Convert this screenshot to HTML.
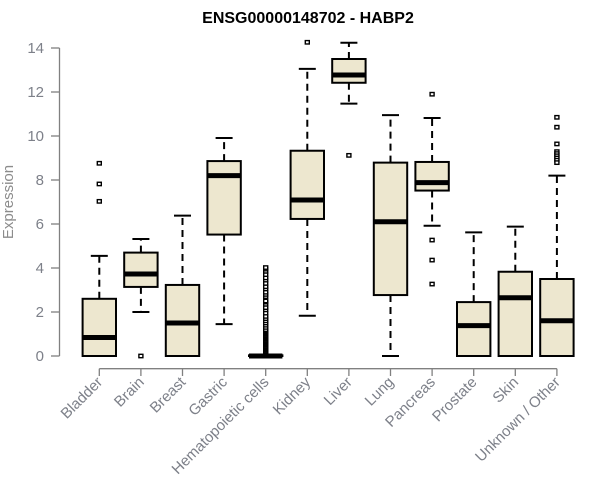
<!DOCTYPE html>
<html><head><meta charset="utf-8"><style>
body{margin:0;background:#fff;}
svg{display:block;font-family:"Liberation Sans",Arial,sans-serif;}
</style></head><body>
<svg id="chart" width="600" height="500" viewBox="0 0 600 500" xmlns="http://www.w3.org/2000/svg">
<text x="308" y="23" text-anchor="middle" font-weight="bold" font-size="16" fill="#000">ENSG00000148702 - HABP2</text>
<text transform="translate(13,202) rotate(-90)" text-anchor="middle" font-size="15" fill="#8c8c8c">Expression</text>
<g id="axes"></g><g id="boxes"></g>
</svg>
<script>
const categories=["Bladder","Brain","Breast","Gastric","Hematopoietic cells","Kidney","Liver","Lung","Pancreas","Prostate","Skin","Unknown / Other"];
const lowWhisker=[0,2.0,0,1.45,0,1.83,11.47,0,5.92,0,0,0];
const q1=[0,3.14,0,5.52,0,6.23,12.42,2.77,7.52,0,0,0];
const median=[0.84,3.73,1.5,8.2,0,7.09,12.77,6.1,7.88,1.38,2.65,1.6];
const q3=[2.6,4.7,3.23,8.86,0.03,9.33,13.5,8.79,8.82,2.45,3.83,3.5];
const highWhisker=[4.55,5.32,6.38,9.91,0.07,13.05,14.24,10.95,10.82,5.62,5.88,8.2];
const outliers=[[8.76,7.82,7.03],[0],[],[],[0.1,0.15,0.2,0.25,0.3,0.35,0.4,0.45,0.5,0.55,0.6,0.65,0.7,0.75,0.8,0.85,0.9,0.95,1.0,1.05,1.1,1.15,1.2,1.3,1.4,1.5,1.6,1.7,1.8,1.95,2.1,2.2,2.35,2.45,2.5,2.7,2.8,2.9,3.05,3.15,3.3,3.45,3.55,3.7,3.85,3.95,4.02],[14.26],[9.12],[],[11.9,5.27,4.36,3.27],[],[],[10.85,10.4,9.64,9.29,9.2,9.1,9.0,8.9,8.79]];
const yTicks=[0,2,4,6,8,10,12,14];
const NS="http://www.w3.org/2000/svg";
const yScale=v=>356-v*22;
const xScale=i=>99.3+i*41.6;
function mk(tag,attrs,parent){const e=document.createElementNS(NS,tag);for(const k in attrs)e.setAttribute(k,attrs[k]);parent.appendChild(e);return e;}
const axes=document.getElementById('axes'),boxes=document.getElementById('boxes');
const grey="#808080",lab="#7d8089";
let l=mk('line',{x1:59.5,x2:59.5,y1:yScale(0),y2:yScale(14),stroke:grey,'stroke-width':1.3},axes);

yTicks.forEach(t=>{
 const tk=mk('line',{x1:51,x2:59.5,y1:yScale(t),y2:yScale(t),stroke:grey,'stroke-width':1.3},axes);
 
 const tx=mk('text',{x:44,y:yScale(t)+5,'text-anchor':'end','font-size':15,fill:lab},axes);
 tx.textContent=t;
 
});
l=mk('line',{x1:xScale(0),x2:xScale(categories.length-1),y1:368.7,y2:368.7,stroke:grey,'stroke-width':1.3},axes);

categories.forEach((c,i)=>{
 const x=xScale(i);
 const tk=mk('line',{x1:x,x2:x,y1:368.7,y2:376,stroke:grey,'stroke-width':1.3},axes);
 
 const tx=mk('text',{transform:`translate(${x+4},${383}) rotate(-45)`,'text-anchor':'end','font-size':15,fill:lab},axes);
 tx.textContent=c;
 
 const g=mk('g',{},boxes);
 
 
 const hw=16.7;
 mk('line',{x1:x,x2:x,y1:yScale(q3[i]),y2:yScale(highWhisker[i]),stroke:'#000','stroke-width':2,'stroke-dasharray':'7,5'},g);
 mk('line',{x1:x,x2:x,y1:yScale(q1[i]),y2:yScale(lowWhisker[i]),stroke:'#000','stroke-width':2,'stroke-dasharray':'7,5'},g);
 mk('line',{x1:x-8.5,x2:x+8.5,y1:yScale(highWhisker[i]),y2:yScale(highWhisker[i]),stroke:'#000','stroke-width':2},g);
 mk('line',{x1:x-8.5,x2:x+8.5,y1:yScale(lowWhisker[i]),y2:yScale(lowWhisker[i]),stroke:'#000','stroke-width':2},g);
 mk('rect',{x:x-hw,y:yScale(q3[i]),width:2*hw,height:Math.max(yScale(q1[i])-yScale(q3[i]),0.5),fill:'#ede7cf',stroke:'#000','stroke-width':2},g);
 mk('line',{x1:x-hw,x2:x+hw,y1:yScale(median[i]),y2:yScale(median[i]),stroke:'#000','stroke-width':5},g);
 outliers[i].forEach(v=>{
  const p=mk('rect',{x:x-2,y:yScale(v)-1.7,width:4,height:3.4,fill:'#fff',stroke:'#000','stroke-width':1.4},g);
  
 });
});
</script>
</body></html>
